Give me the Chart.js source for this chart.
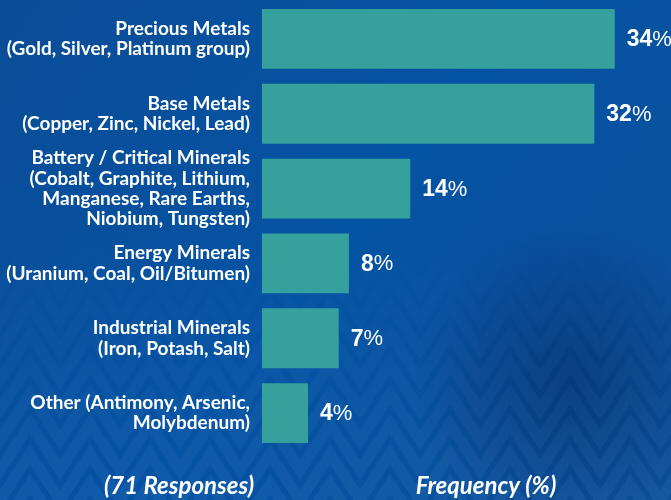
<!DOCTYPE html>
<html>
<head>
<meta charset="utf-8">
<script src="https://cdn.jsdelivr.net/npm/chart.js@4/dist/chart.umd.min.js"></script>
<style>
  html, body { margin: 0; padding: 0; background: #0a4f99; }
  #wrap { width: 671px; height: 500px; position: relative; }
</style>
</head>
<body>
<div id="wrap"><canvas id="c" width="671" height="500"></canvas></div>
<script>
const categories = [
  ["Precious Metals", "(Gold, Silver, Platinum group)"],
  ["Base Metals", "(Copper, Zinc, Nickel, Lead)"],
  ["Battery / Critical Minerals", "(Cobalt, Graphite, Lithium,", "Manganese, Rare Earths,", "Niobium, Tungsten)"],
  ["Energy Minerals", "(Uranium, Coal, Oil/Bitumen)"],
  ["Industrial Minerals", "(Iron, Potash, Salt)"],
  ["Other (Antimony, Arsenic,", "Molybdenum)"]
];
const frequency = [34, 32, 14, 8, 7, 4];
const leftTitle = "(71 Responses)";
const rightTitle = "Frequency (%)";

const bgPlugin = {
  id: 'bg',
  beforeDraw(chart) {
    const ctx = chart.ctx, W = chart.width, H = chart.height;
    ctx.save();
    let g = ctx.createLinearGradient(0, 0, W, H);
    g.addColorStop(0, '#0a4d96');
    g.addColorStop(0.5, '#0553a4');
    g.addColorStop(1, '#0b519a');
    ctx.fillStyle = g;
    ctx.fillRect(0, 0, W, H);
    let r = ctx.createRadialGradient(570, 380, 10, 570, 380, 160);
    r.addColorStop(0, 'rgba(6,40,100,0.55)');
    r.addColorStop(1, 'rgba(6,40,100,0)');
    ctx.fillStyle = r;
    ctx.fillRect(0, 0, W, H);
    ctx.lineWidth = 11;
    ctx.lineJoin = 'miter';
    const period = 60, amp = 46;
    for (let row = 0; row < 12; row++) {
      const y0 = 290 + row * 30;
      ctx.beginPath();
      for (let x = -period, i = 0; x < W + period; x += period / 2, i++) {
        const y = (i % 2 === 0) ? y0 : y0 - amp;
        if (i === 0) ctx.moveTo(x, y); else ctx.lineTo(x, y);
      }
      let lg = ctx.createLinearGradient(0, 240, 0, 500);
      lg.addColorStop(0, 'rgba(110,165,225,0)');
      lg.addColorStop(1, 'rgba(110,165,225,0.10)');
      ctx.strokeStyle = lg;
      ctx.stroke();
    }
    ctx.restore();
  }
};

const labelPlugin = {
  id: 'vals',
  afterDatasetsDraw(chart) {
    const ctx = chart.ctx;
    const meta = chart.getDatasetMeta(0);
    ctx.save();
    ctx.fillStyle = '#ffffff';
    ctx.textBaseline = 'middle';
    ctx.textAlign = 'left';
    meta.data.forEach((bar, i) => {
      const num = String(frequency[i]);
      const x = bar.x + 12, y = bar.y + 1;
      ctx.font = 'bold 23px "Liberation Sans", Arial, sans-serif';
      ctx.fillText(num, x, y);
      const w = ctx.measureText(num).width;
      ctx.font = '22px "Liberation Sans", Arial, sans-serif';
      ctx.fillText('%', x + w, y);
    });
    ctx.font = 'italic bold 24px Lato, "Open Sans", sans-serif';
    ctx.textAlign = 'center';
    ctx.fillText(leftTitle, 179, 486);
    ctx.fillText(rightTitle, 486, 486);
    ctx.restore();
  }
};

new Chart(document.getElementById('c'), {
  type: 'bar',
  data: {
    labels: categories,
    datasets: [{
      data: frequency,
      base: -0.5,
      backgroundColor: '#36a09d',
      borderWidth: 0,
      categoryPercentage: 0.8,
      barPercentage: 1.0
    }]
  },
  options: {
    indexAxis: 'y',
    responsive: false,
    animation: false,
    devicePixelRatio: 1,
    layout: { padding: { top: 1.5, bottom: 49.5, left: 0, right: 0 } },
    plugins: { legend: { display: false }, tooltip: { enabled: false } },
    scales: {
      x: { display: false, min: -0.5, max: 39.5, grid: { display: false } },
      y: {
        grid: { display: false, drawTicks: false },
        border: { display: false },
        ticks: {
          color: '#ffffff',
          padding: 12,
          autoSkip: false,
          font: { family: 'Lato, "Open Sans", sans-serif', weight: 'bold', size: 19, lineHeight: 1.07 }
        },
        afterFit(scale) { scale.width = 262; scale.paddingTop = 0; scale.paddingBottom = 0; }
      }
    }
  },
  plugins: [bgPlugin, labelPlugin]
});
</script>
</body>
</html>
